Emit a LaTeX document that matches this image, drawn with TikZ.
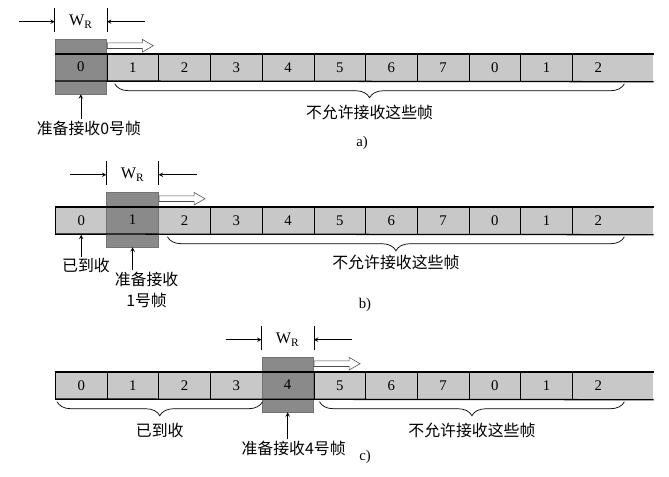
\documentclass[tikz,border=0pt]{standalone}
\usepackage{fontspec}
\setmainfont{Liberation Serif}
\newfontfamily\cjk{Noto Sans CJK SC}
\usetikzlibrary{shapes,arrows,positioning,calc,decorations.pathreplacing}
\definecolor{cellgray}{RGB}{200,200,200}
\definecolor{wingray}{RGB}{138,138,138}

\begin{document}
\begin{tikzpicture}[
    x=0.025cm, y=-0.025cm,
    every node/.style={font=\fontsize{10.5}{12}\selectfont},
    cell/.style={rectangle, draw=black, line width=0.5pt, fill=cellgray, anchor=north west, minimum width=1.2925cm, minimum height=0.675cm, inner sep=0pt},
    win/.style={rectangle, draw=black!55, line width=0.4pt, fill=wingray, minimum width=1.2925cm, minimum height=1.375cm, inner sep=0pt},
    slide/.style={single arrow, draw=black!70, fill=white, anchor=tail, inner xsep=0pt, inner ysep=0.0625cm, minimum height=1.15cm, single arrow head extend=0.0875cm, single arrow tip angle=60},
    rim/.style={line width=0.9pt},
    tick/.style={line width=0.4pt},
    cn/.style={font=\cjk\fontsize{11.3}{15.5}\selectfont, inner sep=1pt},
    brace/.style={decorate, decoration={brace, mirror, amplitude=0.35cm}, line width=0.5pt}
]
    \useasboundingbox (0,0) rectangle (669,476);
    \fill[white] (0,0) rectangle (669,476);

    % three rows: strip, receive window, W_R mark
    \foreach \r/\k/\y in {a/0/54, b/1/207, c/4/372} {
        \foreach \n [count=\p from 0] in {0,1,2,3,4,5,6,7,0,1,2} {
            \ifnum\p=\k\relax\else
                \node[cell] (\r\p) at ({55+51.7*\p},\y) {\n};
            \fi
        }
        \node[cell, draw=none, minimum width=0.73cm] (\r11) at ({55+51.7*11},\y) {};
        \node[win] (w\r) at ({55+51.7*\k+25.85},{\y+12.5}) {\k};
        \draw[rim] (55,\y) -- (\r11.north east);
        \draw[rim] (55,{\y+27}) -- (\r11.south east);
        \node[slide] (s\r) at ($(w\r.north east)+(0,7)$) {};
        % W_R
        \draw[tick] ($(w\r.north west)+(0,-7)$) -- ++(0,-24);
        \draw[tick] ($(w\r.north east)+(0,-7)$) -- ++(0,-24);
        \coordinate (l\r) at ($(w\r.north west)+(-36,-17)$);
        \coordinate (m\r) at ($(w\r.north east)+(38,-17)$);
        \draw[tick, -stealth] (l\r) -- ($(w\r.north west)+(0,-17)$);
        \draw[tick, -stealth] (m\r) -- ($(w\r.north east)+(0,-17)$);
        \node[font=\fontsize{11.5}{13}\selectfont] (wr\r) at ($(w\r.north)+(0,-17)$) {W\textsubscript{R}};
    }

    % a)
    \draw[brace] ($(a1.south west)+(8,2)$) -- ($(a10.south east)+(0,2)$)
        node[cn, midway, below=0.5cm] (na) {不允许接收这些帧};
    \node[cn, below=0.62cm of wa, xshift=0.2cm] (ra) {准备接收0号帧};
    \draw[tick, -stealth] (ra.north -| wa.south) -- (wa.south);
    \node (capa) at (362,143) {a)};

    % b)
    \draw[brace] ($(b2.south west)+(9,2)$) -- ($(b10.south east)+(0,2)$)
        node[cn, midway, below=0.42cm] (nb) {不允许接收这些帧};
    \node[cn, below=0.55cm of b0, xshift=0.12cm] (rb0) {已到收};
    \draw[tick, -stealth] (rb0.north -| b0.south) -- (b0.south);
    \node[cn, align=center, below=0.57cm of wb, xshift=0.35cm] (rb) {准备接收\\1号帧};
    \draw[tick, -stealth] (rb.north -| wb.south) -- (wb.south);
    \node (capb) at (365,305) {b)};

    % c)
    \draw[brace] ($(c0.south west)+(2,2)$) -- ($(c3.south east)+(0,2)$)
        node[cn, midway, below=0.5cm] (nc0) {已到收};
    \draw[brace] ($(c5.south west)+(6,2)$) -- ($(c10.south east)+(0,2)$)
        node[cn, midway, below=0.5cm] (nc) {不允许接收这些帧};
    \node[cn, below=0.67cm of wc, xshift=0.15cm] (rc) {准备接收4号帧};
    \draw[tick, -stealth] (rc.north -| wc.south) -- (wc.south);
    \node (capc) at (365,457) {c)};
\end{tikzpicture}
\end{document}
